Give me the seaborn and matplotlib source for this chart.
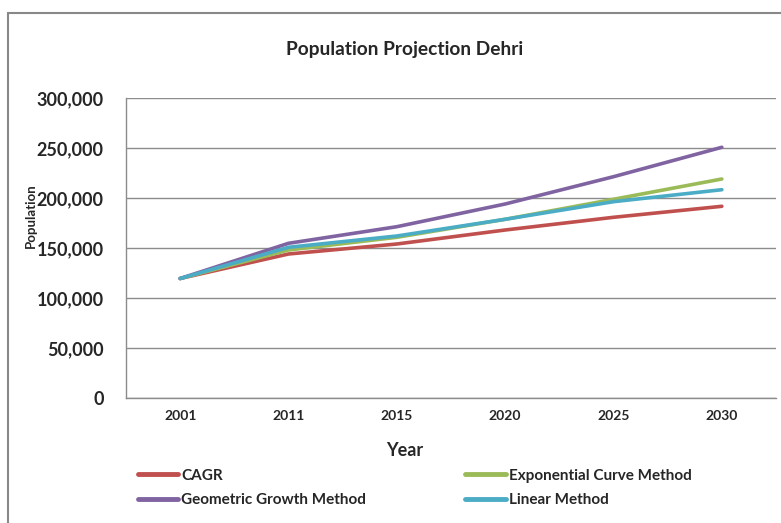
import matplotlib
matplotlib.use("Agg")
import matplotlib.pyplot as plt
import matplotlib.patches as mpatches
from matplotlib.ticker import FuncFormatter, FixedLocator
import seaborn as sns
import pandas as pd

years = ["2001", "2011", "2015", "2020", "2025", "2030"]
cagr = [119500, 144000, 154000, 168000, 180700, 191700]
exponential = [119500, 148000, 160700, 178700, 198700, 219000]
geometric = [119500, 154700, 171300, 194000, 221300, 250700]
linear = [119500, 150700, 162000, 178700, 196300, 208300]

series_names = ["CAGR", "Exponential Curve Method", "Geometric Growth Method", "Linear Method"]
colors = ["#C0504D", "#9BBB59", "#8064A2", "#4BACC6"]

rows = []
for name, vals in zip(series_names, [cagr, exponential, geometric, linear]):
    for y, v in zip(years, vals):
        rows.append({"Year": y, "Population": v, "Series": name})
df = pd.DataFrame(rows)

sns.set_style("white")
plt.rcParams["font.family"] = ["Lato", "DejaVu Sans"]

fig = plt.figure(figsize=(7.81, 5.23), dpi=100)
ax = fig.add_axes([126 / 781, 1 - 398 / 523, 650 / 781, 300 / 523])

sns.lineplot(data=df, x="Year", y="Population", hue="Series",
             palette=dict(zip(series_names, colors)), hue_order=series_names,
             sort=False, linewidth=2.6, ax=ax, legend=False)

ax.set_xlim(-0.5, 5.5)
ax.set_ylim(0, 300000)
ax.set_yticks(range(0, 300001, 50000))
ax.yaxis.set_major_formatter(FuncFormatter(lambda v, p: f"{int(v):,}"))
ax.grid(axis="y", color="#8c8c8c", linewidth=1)
ax.set_axisbelow(True)
for s in ["top", "right"]:
    ax.spines[s].set_visible(False)
for s in ["left", "bottom"]:
    ax.spines[s].set_color("#8c8c8c")
    ax.spines[s].set_linewidth(1)

ax.set_xticks(range(len(years)))
ax.set_xticklabels(years)
ax.xaxis.set_minor_locator(FixedLocator([i - 0.5 for i in range(len(years) + 1)]))
ax.tick_params(axis="x", which="major", length=0, pad=9, labelsize=10)
ax.tick_params(axis="x", which="minor", length=7, color="#8c8c8c", width=1, direction="out")
ax.tick_params(axis="y", length=8, color="#8c8c8c", width=1, direction="out", pad=8, labelsize=13)
for lab in ax.get_xticklabels() + ax.get_yticklabels():
    lab.set_fontweight("bold")

ax.set_xlabel("")
ax.set_ylabel("")
fig.text(405 / 781, 1 - 450 / 523, "Year", ha="center", va="center", fontsize=13, fontweight="bold")
fig.text(31 / 781, 1 - 216 / 523, "Population", ha="center", va="center", rotation=90,
         fontsize=9.5, fontweight="bold")
fig.text(405 / 781, 1 - 49 / 523, "Population Projection Dehri", ha="center", va="center",
         fontsize=13.8, fontweight="bold")

# chart border
fig.patches.append(mpatches.Rectangle((8 / 781, -0.1), 1.0, 1 - 13 / 523 + 0.1,
                                      transform=fig.transFigure, fill=False,
                                      edgecolor="#888888", linewidth=1.5))

handles = [plt.Line2D([], [], color=c, linewidth=3.5) for c in colors]
leg_order = [0, 2, 1, 3]
leg = fig.legend([handles[i] for i in leg_order], [series_names[i] for i in leg_order],
                 ncol=2, loc="upper left", bbox_to_anchor=(124 / 781, 1 - 455 / 523),
                 frameon=False, handlelength=2.65, handletextpad=0.2,
                 columnspacing=6.5, labelspacing=0.7, prop={"weight": "bold", "size": 11})

fig.savefig("out.png", dpi=100)
